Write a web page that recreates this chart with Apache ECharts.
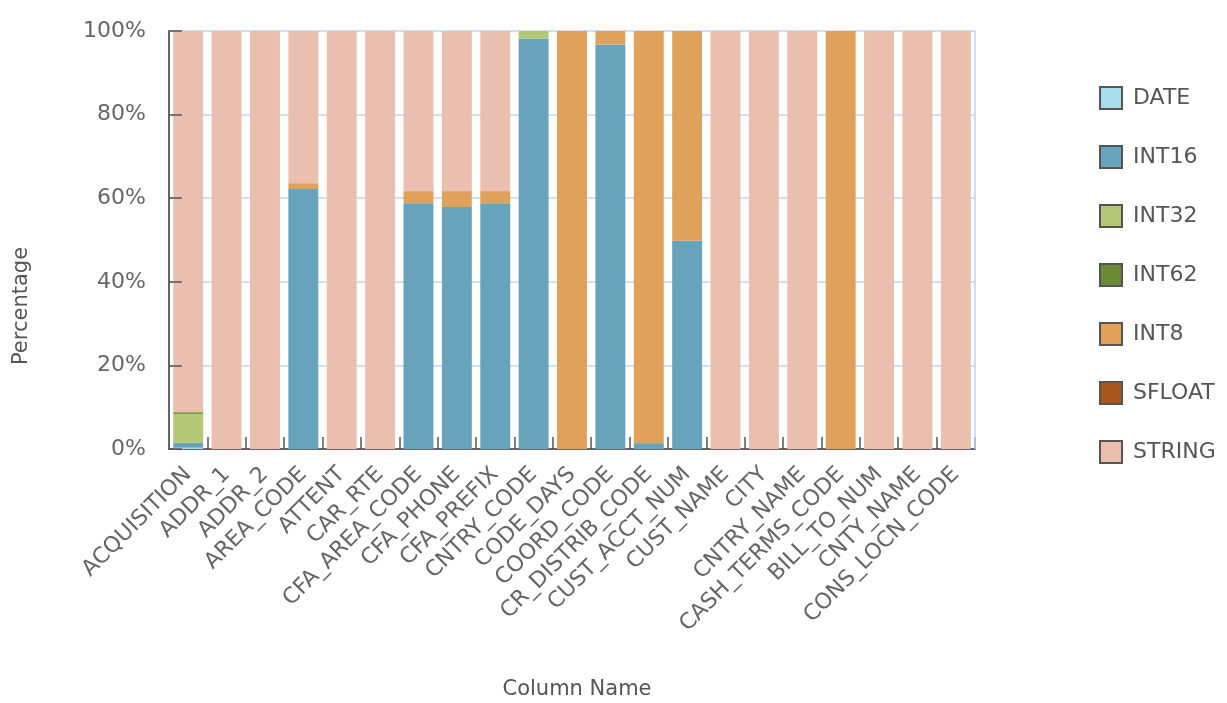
<!DOCTYPE html>
<html>
<head>
<meta charset="utf-8">
<script src="https://cdn.jsdelivr.net/npm/echarts@6/dist/echarts.min.js"></script>
<style>html,body{margin:0;padding:0;background:#fff;}#c{width:1227px;height:703px;}</style>
</head>
<body>
<div id="c"></div>
<script>
const categories = ["ACQUISITION","ADDR_1","ADDR_2","AREA_CODE","ATTENT","CAR_RTE","CFA_AREA_CODE","CFA_PHONE","CFA_PREFIX","CNTRY_CODE","CODE_DAYS","COORD_CODE","CR_DISTRIB_CODE","CUST_ACCT_NUM","CUST_NAME","CITY","CNTRY_NAME","CASH_TERMS_CODE","BILL_TO_NUM","CNTY_NAME","CONS_LOCN_CODE"];
const DATE   = [0.3,0,0,0,0,0,0,0,0,0,0,0,0,0,0,0,0,0,0,0,0];
const INT16  = [1.2,0,0,62.2,0,0,58.8,57.9,58.8,98.2,0,96.8,1.4,49.8,0,0,0,0,0,0,0];
const INT32  = [6.9,0,0,0,0,0,0,0,0,1.8,0,0,0,0,0,0,0,0,0,0,0];
const INT62  = [0.4,0,0,0,0,0,0,0,0,0,0,0,0,0,0,0,0,0,0,0,0];
const INT8   = [0,0,0,1.4,0,0,2.9,3.8,2.9,0,100,3.2,98.6,50.2,0,0,0,100,0,0,0];
const SFLOAT = [0,0,0,0,0,0,0,0,0,0,0,0,0,0,0,0,0,0,0,0,0];
const STRING = [91.2,100,100,36.4,100,100,38.3,38.3,38.3,0,0,0,0,0,100,100,100,0,100,100,100];
const yTicks = [0,20,40,60,80,100];

const seriesDefs = [
  ["DATE", DATE, "#a8dce9"],
  ["INT16", INT16, "#67a3bb"],
  ["INT32", INT32, "#b4c978"],
  ["INT62", INT62, "#6b8a35"],
  ["INT8", INT8, "#e0a25a"],
  ["SFLOAT", SFLOAT, "#a8561d"],
  ["STRING", STRING, "#eabfaf"]
];
const FONT = "DejaVu Sans";
const chart = echarts.init(document.getElementById('c'), null, {renderer:'canvas'});
chart.setOption({
  animation:false,
  backgroundColor:'#fff',
  textStyle:{fontFamily:FONT},
  grid:{left:169, right:252, top:31, bottom:254, containLabel:false},
  legend:{
    orient:'vertical', left:1099, top:86, padding:0, itemWidth:22, itemHeight:22, itemGap:35,
    icon:'rect',
    itemStyle:{borderColor:'#555', borderWidth:2},
    textStyle:{fontFamily:FONT, fontSize:22, color:'#555', padding:[0,0,0,6]},
    data: seriesDefs.map(s=>s[0])
  },
  xAxis:{
    type:'category', data:categories,
    boundaryGap:true,
    axisLine:{show:true, lineStyle:{color:'#666', width:2}},
    axisTick:{show:true, inside:true, length:12, lineStyle:{color:'#555', width:1.5}},
    axisLabel:{rotate:45, interval:0, margin:22, fontFamily:FONT, fontSize:22, color:'#666'},
    splitLine:{show:false}
  },
  yAxis:[{
    type:'value', min:0, max:100, interval:20,
    axisLine:{show:false},
    axisTick:{show:false},
    axisLabel:{margin:23, fontFamily:FONT, fontSize:22, color:'#666', formatter: v => yTicks.includes(v) ? v + '%' : ''},
    splitLine:{show:true, lineStyle:{color:'#bcd6f0', width:1.5}}
  },{
    type:'value', min:0, max:100, interval:20, position:'left', z:10,
    axisLine:{show:true, lineStyle:{color:'#666', width:2}},
    axisTick:{show:true, inside:true, length:13, lineStyle:{color:'#555', width:1.5}},
    axisLabel:{show:false},
    splitLine:{show:false}
  }],
  graphic:[
    {type:'text', x:22, y:306, rotation:Math.PI/2, style:{text:'Percentage', fontFamily:FONT, fontSize:21, fill:'#555', textAlign:'center', textVerticalAlign:'middle'}},
    {type:'text', x:577, y:690, style:{text:'Column Name', fontFamily:FONT, fontSize:21, fill:'#555', textAlign:'center', textVerticalAlign:'middle'}},
    {type:'line', shape:{x1:975, y1:31, x2:975, y2:449}, style:{stroke:'#bcd6f0', lineWidth:1.5}, z:1}
  ],
  series: seriesDefs.map(s=>({
    name:s[0], type:'bar', stack:'total', data:s[1],
    barCategoryGap:'22%',
    itemStyle:{color:s[2]},
    emphasis:{disabled:true}
  }))
});
</script>
</body>
</html>
